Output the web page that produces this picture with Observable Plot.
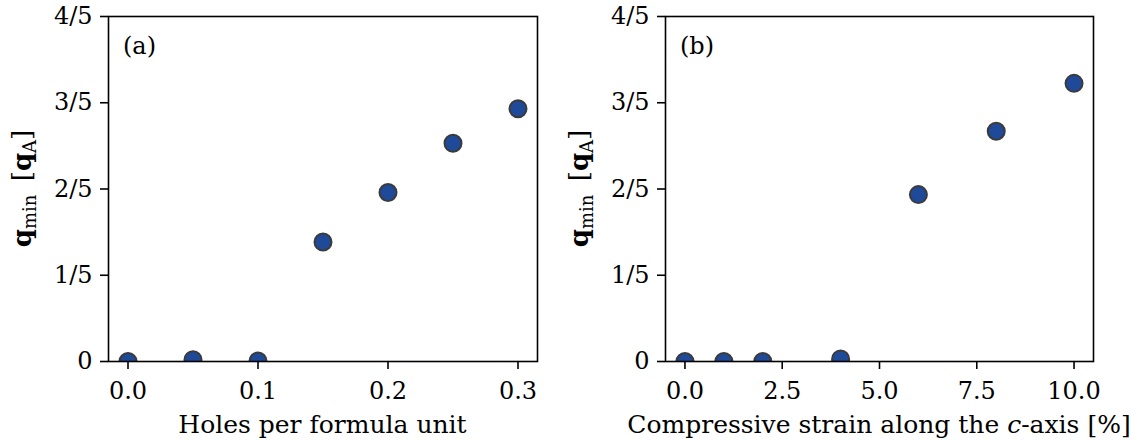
<!DOCTYPE html>
<html>
<head>
<meta charset="utf-8">
<script src="https://cdn.jsdelivr.net/npm/d3@7"></script>
<script src="https://cdn.jsdelivr.net/npm/@observablehq/plot@0.6"></script>
<style>
  html, body { margin: 0; padding: 0; background: #fff; }
  #fig { display: flex; width: 1131px; height: 441px; }
</style>
</head>
<body>
<div id="fig"></div>
<script>
// ---- data ----
const holes = [0, 0.05, 0.1, 0.15, 0.2, 0.25, 0.3];
const qminHoles = [0.0, 0.004, 0.001, 0.277, 0.392, 0.506, 0.586];
const strain = [0, 1, 2, 4, 6, 8, 10];
const qminStrain = [0.0, 0.0, 0.0, 0.006, 0.387, 0.534, 0.645];
const yTicks = [0, 0.2, 0.4, 0.6, 0.8];
const yTickLabels = ["0", "1/5", "2/5", "3/5", "4/5"];
const xTicksA = [0, 0.1, 0.2, 0.3];
const xTickLabelsA = ["0.0", "0.1", "0.2", "0.3"];
const xTicksB = [0, 2.5, 5, 7.5, 10];
const xTickLabelsB = ["0.0", "2.5", "5.0", "7.5", "10.0"];

const FONT = '"DejaVu Serif", serif';
const FS = 24;      // tick labels
const FSL = 25;     // axis labels
const H = 441;
const MT = 16, MB = 80;

function panel(opts) {
  const data = opts.xs.map((x, i) => ({x, y: opts.ys[i]}));
  const svg = Plot.plot({
    width: opts.width, height: H,
    marginLeft: opts.ml, marginRight: opts.mr, marginTop: MT, marginBottom: MB,
    style: {fontFamily: FONT, fontSize: FS + "px", color: "#000", background: "#fff", overflow: "visible"},
    x: {domain: opts.xDomain},
    y: {domain: [0, 0.8]},
    marks: [
      Plot.dot(data, {x: "x", y: "y", r: 8.5, fill: "#1f4a9a", stroke: "#3b3b3b", strokeWidth: 2, clip: true}),
      // white mask below the axes so dots on the baseline appear clipped (as in matplotlib)
      Plot.rect([opts.xDomain], {x1: d => d[0], x2: d => d[1], y1: -0.2, y2: 0, fill: "#fff"}),
      Plot.frame({stroke: "#000", strokeWidth: 1.6}),
      Plot.axisX({ticks: opts.xTicks, tickFormat: d => opts.xTickLabels[opts.xTicks.indexOf(d)],
        tickSize: 8, tickPadding: 12, strokeWidth: 1.6, label: null, fontSize: FS}),
      Plot.axisY({ticks: yTicks, tickFormat: d => yTickLabels[yTicks.indexOf(d)],
        tickSize: 8, tickPadding: 8, strokeWidth: 1.6, label: null, fontSize: FS})
    ]
  });
  const s = d3.select(svg);
  const plotBottom = H - MB;
  const plotRight = opts.width - opts.mr;
  const cx = (opts.ml + plotRight) / 2;
  // panel label
  s.append("text").attr("x", opts.ml + 15).attr("y", 54).attr("text-anchor", "start")
    .attr("font-size", FS).attr("fill", "#000").text(opts.panelLabel);
  // x label
  const xl = s.append("text").attr("x", cx).attr("y", 433).attr("text-anchor", "middle")
    .attr("font-size", FSL).attr("fill", "#000");
  opts.xLabelParts.forEach(p => {
    const t = xl.append("tspan").text(p.t);
    if (p.it) t.attr("font-style", "italic");
  });
  // y label
  const yl = s.append("text")
    .attr("transform", `translate(${opts.ml - 77},${(MT + plotBottom) / 2}) rotate(-90)`)
    .attr("text-anchor", "middle").attr("font-size", FSL + 1).attr("fill", "#000");
  yl.append("tspan").attr("font-weight", "bold").text("q");
  yl.append("tspan").attr("font-size", 18).attr("dy", 5).text("min");
  yl.append("tspan").attr("dy", -5).text("\u2009 [");
  yl.append("tspan").attr("font-weight", "bold").text("q");
  yl.append("tspan").attr("font-size", 18).attr("dy", 5).text("A");
  yl.append("tspan").attr("dy", -5).text("]");
  return svg;
}

const fig = document.getElementById("fig");
fig.appendChild(panel({
  id: "a", width: 565, ml: 108, mr: 28,
  xs: holes, ys: qminHoles, xDomain: [-0.015, 0.315],
  xTicks: xTicksA, xTickLabels: xTickLabelsA,
  panelLabel: "(a)",
  xLabelParts: [{t: "Holes per formula unit"}]
}));
fig.appendChild(panel({
  id: "b", width: 566, ml: 100, mr: 38,
  xs: strain, ys: qminStrain, xDomain: [-0.5, 10.5],
  xTicks: xTicksB, xTickLabels: xTickLabelsB,
  panelLabel: "(b)",
  xLabelParts: [{t: "Compressive strain along the "}, {t: "c", it: true}, {t: "-axis [%]"}]
}));
</script>
</body>
</html>
